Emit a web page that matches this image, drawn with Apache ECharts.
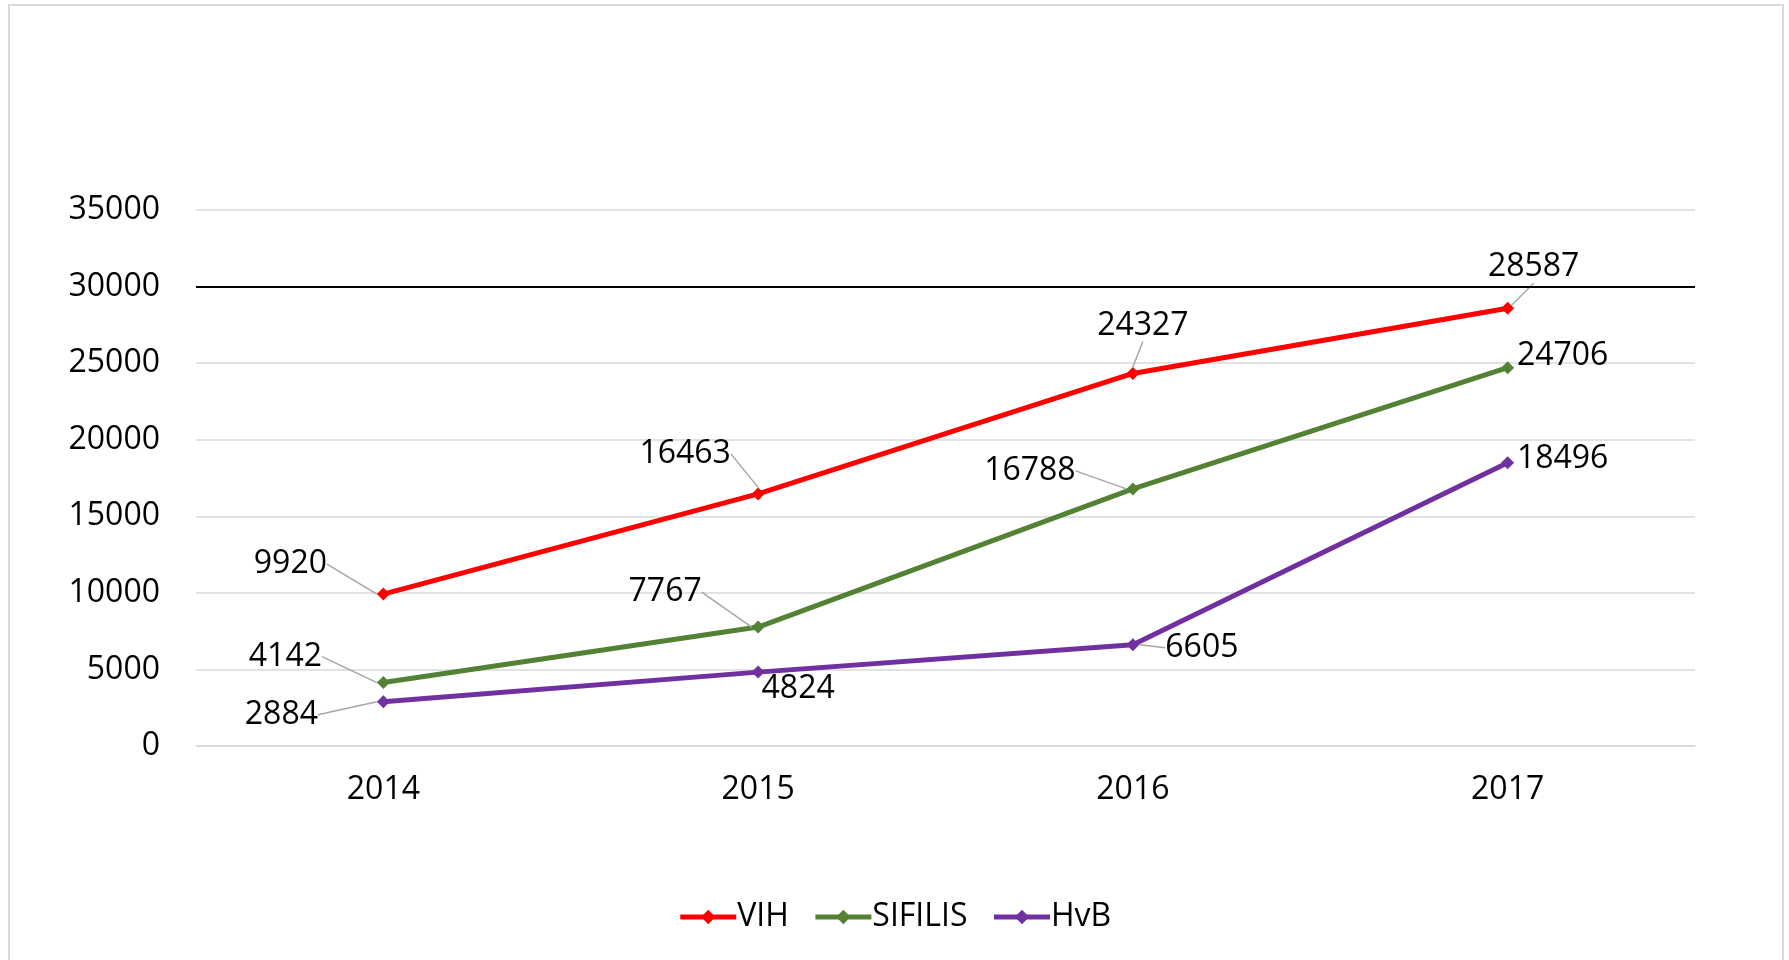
<!DOCTYPE html>
<html>
<head>
<meta charset="utf-8">
<script src="https://cdn.jsdelivr.net/npm/echarts@6/dist/echarts.min.js"></script>
<style>
  html, body { margin: 0; padding: 0; background: #fff; }
  #chart { width: 1789px; height: 960px; }
</style>
</head>
<body>
<div id="chart"></div>
<script>
// datos
var years = ["2014", "2015", "2016", "2017"];
var vih = [9920, 16463, 24327, 28587];
var sifilis = [4142, 7767, 16788, 24706];
var hvb = [2884, 4824, 6605, 18496];
var yTicks = { min: 0, max: 35000, step: 5000 };
var refLine = 30000;

// desplazamiento de etiquetas (px, centro etiqueta - punto)
var labelOffsets = [
  [[-93, -30], [-73, -40], [10, -48], [26, -41]],
  [[-98, -26], [-93, -35], [-103, -18], [55, -12]],
  [[-102, 13], [40, 17], [69, 3], [55, -4]]
];
var guideShown = [
  [true, true, true, true],
  [true, true, true, false],
  [true, false, true, false]
];

var font = "'Open Sans', 'Liberation Sans', sans-serif";

function makeSeries(name, values, color, idx) {
  return {
    name: name,
    type: "line",
    data: values.map(function (v, i) {
      return { value: v, labelLine: { show: guideShown[idx][i] } };
    }),
    symbol: "diamond",
    symbolSize: 13,
    lineStyle: { color: color, width: 5 },
    itemStyle: { color: color },
    label: {
      show: true,
      position: "top",
      color: "#000",
      fontSize: 32,
      fontFamily: font
    },
    labelLine: {
      show: true,
      lineStyle: { color: "#a6a6a6", width: 1.5 }
    },
    labelLayout: function (p) {
      var o = labelOffsets[idx][p.dataIndex];
      var cx = p.rect.x + p.rect.width / 2;
      var cy = p.rect.y + p.rect.height / 2;
      return { x: cx + o[0], y: cy + o[1], align: "center", verticalAlign: "middle" };
    },
    emphasis: { disabled: true },
    animation: false
  };
}

var chart = echarts.init(document.getElementById("chart"));
var series = [
  makeSeries("VIH", vih, "#ff0000", 0),
  makeSeries("SIFILIS", sifilis, "#548235", 1),
  makeSeries("HvB", hvb, "#7030a0", 2)
];
// linea negra en 30000
series[0].markLine = {
  silent: true,
  symbol: "none",
  label: { show: false },
  lineStyle: { color: "#000", width: 2, type: "solid" },
  data: [{ yAxis: refLine }]
};

chart.setOption({
  animation: false,
  graphic: [{
    type: "rect",
    shape: { x: 9, y: 5, width: 1774, height: 1000 },
    style: { fill: "none", stroke: "#d9d9d9", lineWidth: 2 },
    silent: true
  }],
  grid: { left: 196, right: 94, top: 210, bottom: 214 },
  legend: {
    data: ["VIH", "SIFILIS", "HvB"],
    left: "center",
    top: 896,
    itemWidth: 56,
    itemHeight: 18,
    itemGap: 24,
    lineStyle: { width: 5 },
    textStyle: { fontSize: 32, fontFamily: font, color: "#000", padding: [0, 0, 0, -4] }
  },
  xAxis: {
    type: "category",
    data: years,
    boundaryGap: true,
    axisLine: { lineStyle: { color: "#d9d9d9", width: 1.5 } },
    axisTick: { show: false },
    axisLabel: { fontSize: 32, fontFamily: font, color: "#000", margin: 28 }
  },
  yAxis: {
    type: "value",
    min: yTicks.min,
    max: yTicks.max,
    interval: yTicks.step,
    axisLine: { show: false },
    axisTick: { show: false },
    splitLine: { lineStyle: { color: "#d9d9d9", width: 1.5 } },
    axisLabel: {
      fontSize: 32, fontFamily: font, color: "#000", margin: 36,
      formatter: function (v) { return String(v); }
    }
  },
  series: series
});
</script>
</body>
</html>
